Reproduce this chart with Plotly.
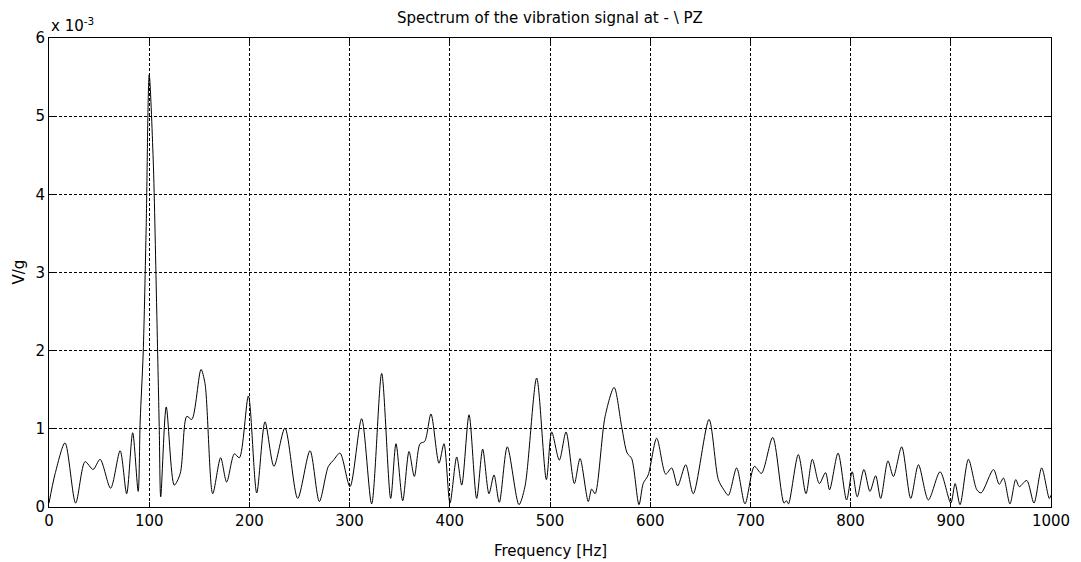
import plotly.graph_objects as go

freq_hz = [0, 6, 16, 26.6, 36, 44, 51, 61.5, 71, 77.5, 83.5, 89, 91, 94, 97, 100, 104, 107.5, 110, 111.5,
           117, 125, 131, 137.5, 142.5, 151.7, 155.7, 163.4, 171.3, 177.3, 185, 190, 199, 207.3, 215.6,
           224.5, 235.5, 248.2, 260.5, 269.8, 278.8, 284, 290.4, 300.4, 312, 322, 332, 341, 346.3, 353,
           359.3, 364.6, 370.3, 375, 381.2, 389.2, 394.2, 400.2, 406.9, 411.9, 419.2, 426.8, 432.8, 439.1,
           444.1, 449.4, 457.4, 469, 475, 486.7, 496.4, 501.7, 509.3, 516, 524.3, 530, 538.2, 541.6, 545,
           555, 564, 571.5, 577, 581.5, 588.8, 593, 598, 606.5, 615.5, 621.4, 627.4, 635.4, 643, 658.7,
           668, 673, 678, 686.3, 694.6, 704, 711, 722.3, 733.5, 736, 738, 747.8, 755.5, 761.8, 768.8, 775,
           779, 787.5, 796, 801.6, 806.6, 813.3, 819.3, 825, 830, 837.3, 842.7, 851, 860, 867.7, 877.6,
           889.3, 900, 904.3, 909.2, 917.6, 926, 930.3, 942.6, 948.3, 952.6, 959, 964.8, 968.4, 975.8,
           983, 990.7, 998.3, 1000]

amplitude_e3 = [0.05, 0.42, 0.82, 0.05, 0.58, 0.48, 0.61, 0.24, 0.72, 0.17, 0.95, 0.2, 1.1, 1.97, 3.59, 5.53,
                4.44, 2.52, 1.03, 0.13, 1.28, 0.28, 0.43, 1.16, 1.12, 1.76, 1.58, 0.17, 0.63, 0.32, 0.68,
                0.63, 1.42, 0.18, 1.09, 0.52, 1.01, 0.11, 0.72, 0.07, 0.52, 0.6, 0.69, 0.26, 1.13, 0.04,
                1.71, 0.11, 0.81, 0.08, 0.71, 0.39, 0.81, 0.84, 1.19, 0.56, 0.81, 0.05, 0.64, 0.28, 1.18,
                0.11, 0.74, 0.17, 0.41, 0.06, 0.77, 0.03, 0.26, 1.65, 0.35, 0.96, 0.60, 0.96, 0.30, 0.62,
                0.07, 0.23, 0.17, 1.16, 1.53, 1.03, 0.69, 0.62, 0.03, 0.30, 0.41, 0.88, 0.42, 0.50, 0.27,
                0.54, 0.17, 1.12, 0.35, 0.23, 0.15, 0.50, 0.04, 0.52, 0.43, 0.89, 0.05, 0.08, 0.04, 0.67,
                0.17, 0.61, 0.30, 0.44, 0.22, 0.69, 0.09, 0.45, 0.13, 0.48, 0.20, 0.40, 0.11, 0.59, 0.39,
                0.77, 0.11, 0.54, 0.09, 0.45, 0.05, 0.30, 0.03, 0.61, 0.22, 0.18, 0.48, 0.29, 0.37, 0.04,
                0.35, 0.26, 0.34, 0.05, 0.50, 0.11, 0.15]

x_ticks = [0, 100, 200, 300, 400, 500, 600, 700, 800, 900, 1000]
y_ticks = [0, 1, 2, 3, 4, 5, 6]

FONT = "DejaVu Sans, Arial, sans-serif"

fig = go.Figure()
fig.add_trace(go.Scatter(x=freq_hz, y=amplitude_e3, mode="lines",
                         line=dict(color="black", width=1, shape="spline", smoothing=0.8),
                         showlegend=False, hoverinfo="skip"))

axis_common = dict(showline=True, linecolor="black", linewidth=1, mirror="ticks",
                   ticks="inside", ticklen=5, tickcolor="black", showgrid=True,
                   gridcolor="black", gridwidth=1, griddash="3px,2px", zeroline=False,
                   tickfont=dict(family=FONT, size=15, color="black"))

fig.update_xaxes(range=[0, 1000], tickvals=x_ticks, ticktext=[str(v) for v in x_ticks], **axis_common)
fig.update_yaxes(range=[0, 6], tickvals=y_ticks, ticktext=[str(v) for v in y_ticks], **axis_common)

fig.update_layout(
    width=1081, height=562,
    margin=dict(l=49, r=30, t=38, b=55),
    paper_bgcolor="white", plot_bgcolor="white",
    font=dict(family=FONT, color="black"),
    annotations=[
        dict(text="Spectrum of the vibration signal at - \\ PZ", xref="paper", yref="paper",
             x=0.5, y=1.0426, xanchor="center", yanchor="middle", showarrow=False,
             font=dict(family=FONT, size=15, color="black")),
        dict(text="x 10<sup>-3</sup>", xref="paper", yref="paper", x=0.0, y=1.0, xanchor="left",
             yanchor="bottom", yshift=1, showarrow=False, font=dict(family=FONT, size=15, color="black")),
        dict(text="Frequency [Hz]", xref="paper", yref="paper", x=0.5, y=-0.0938, xanchor="center",
             yanchor="middle", showarrow=False, font=dict(family=FONT, size=15, color="black")),
        dict(text="V/g", xref="paper", yref="paper", x=-0.0309, y=0.5, xanchor="center",
             yanchor="middle", textangle=-90, showarrow=False, font=dict(family=FONT, size=15, color="black")),
    ],
)

fig.write_html("out.html")
